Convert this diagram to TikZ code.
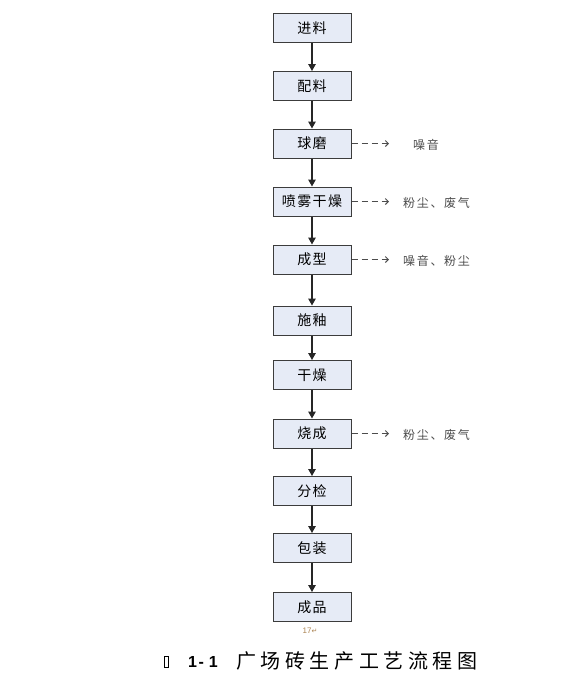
\documentclass[tikz,border=0pt]{standalone}
\usepackage{fontspec}
\setmainfont{Liberation Sans}
\newfontfamily\cjk[LetterSpace=10]{Noto Sans CJK SC}
\newfontfamily\lblfont[LetterSpace=14]{Noto Sans CJK SC}
\newfontfamily\capfont[LetterSpace=23]{Noto Sans CJK SC}
\newfontfamily\djv{DejaVu Sans}
\usetikzlibrary{arrows.meta}
\definecolor{boxfill}{RGB}{230,235,246}
\definecolor{boxline}{RGB}{60,60,60}
\definecolor{pagenum}{RGB}{170,130,80}
\tikzset{
  stepbox/.style={draw=boxline, line width=1pt, fill=boxfill, minimum width=78pt, minimum height=29pt, inner sep=0pt, font=\cjk\fontsize{14}{14}\selectfont},
  flow/.style={draw=black!85, line width=1.3pt, -{Triangle[length=7pt,width=7.5pt]}},
  emit/.style={draw=black!70, line width=1pt, dash pattern=on 6pt off 4pt, -{Straight Barb[length=3pt,width=6pt]}},
  emitlabel/.style={anchor=west, inner sep=0pt, text=black!70, font=\lblfont\fontsize{12}{12}\selectfont},
}
\begin{document}
\begin{tikzpicture}[x=1pt,y=-1pt]
\useasboundingbox (0,0) rectangle (565,689);
\node[stepbox] (n1) at (312,28) {进料};
\node[stepbox] (n2) at (312,86) {配料};
\node[stepbox] (n3) at (312,143.5) {球磨};
\node[stepbox] (n4) at (312,201.5) {喷雾干燥};
\node[stepbox] (n5) at (312,259.5) {成型};
\node[stepbox] (n6) at (312,320.5) {施釉};
\node[stepbox] (n7) at (312,375) {干燥};
\node[stepbox] (n8) at (312,433.5) {烧成};
\node[stepbox] (n9) at (312,491) {分检};
\node[stepbox] (n10) at (312,548) {包装};
\node[stepbox] (n11) at (312,607) {成品};
\foreach \a/\b in {n1/n2,n2/n3,n3/n4,n4/n5,n5/n6,n6/n7,n7/n8,n8/n9,n9/n10,n10/n11}
  \draw[flow] (\a) -- (\b);
\coordinate (e3) at (389,143.5);
\coordinate (e4) at (389,201.5);
\coordinate (e5) at (389,259.5);
\coordinate (e8) at (389,433.5);
\draw[emit] (n3.east) -- (e3);
\draw[emit] (n4.east) -- (e4);
\draw[emit] (n5.east) -- (e5);
\draw[emit] (n8.east) -- (e8);
\node[emitlabel] (l3) at (413,144.5) {噪音};
\node[emitlabel] (l4) at (403,202.5) {粉尘、废气};
\node[emitlabel] (l5) at (403,261) {噪音、粉尘};
\node[emitlabel] (l8) at (403,434.5) {粉尘、废气};
\node[text=pagenum, font=\fontsize{8}{8}\selectfont, inner sep=0pt] (pg) at (310,631) {17{\djv\fontsize{7}{7}\selectfont ↵}};
\node[draw=black, line width=0.6pt, minimum width=4pt, minimum height=10.5pt, inner sep=0pt] (tofu) at (166,662) {};
\node[anchor=west, inner sep=0pt, font=\bfseries\fontsize{16}{16}\selectfont] (num) at (188,661.5) {1\hspace{1.5pt}-\hspace{5pt}1};
\node[anchor=west, inner sep=0pt, font=\capfont\fontsize{20}{20}\selectfont] (cap) at (236,660.5) {广场砖生产工艺流程图};
\end{tikzpicture}
\end{document}
